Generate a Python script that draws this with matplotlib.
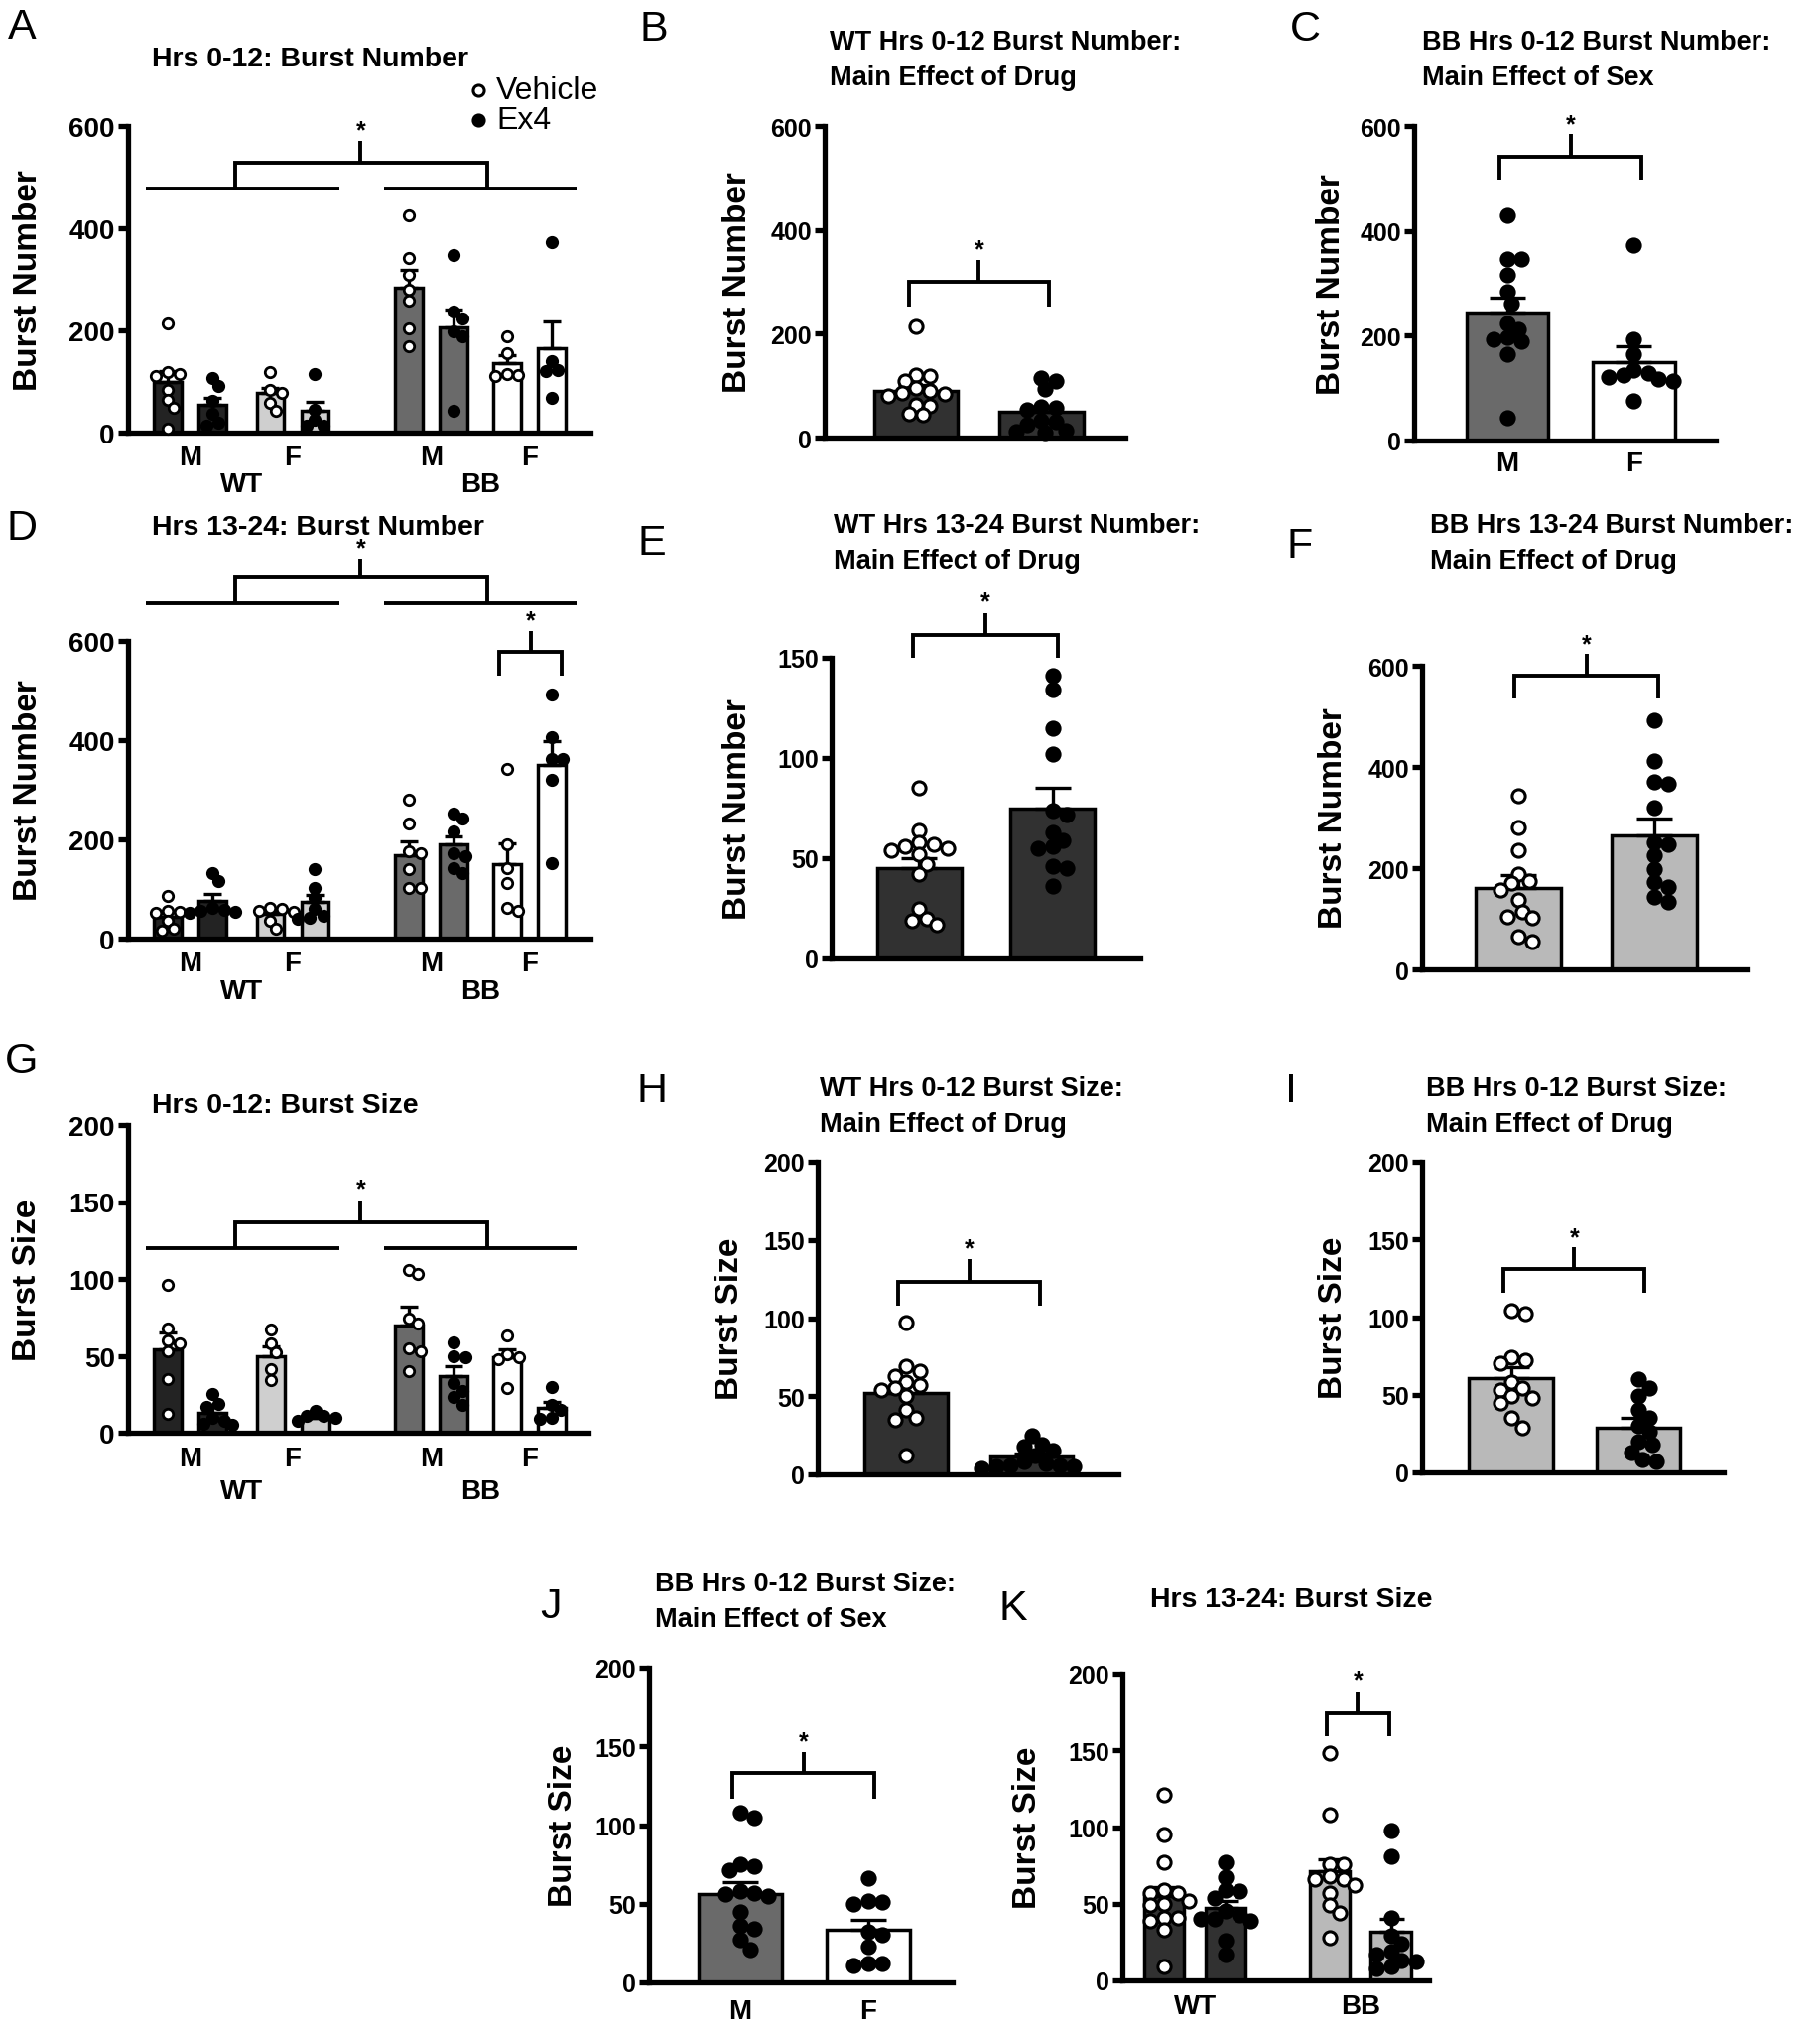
import numpy as np
import matplotlib
matplotlib.use('Agg')
import matplotlib.pyplot as plt
from matplotlib.lines import Line2D

plt.rcParams['font.family'] = ['Liberation Sans', 'DejaVu Sans']

# ---------------- data ----------------
# grouped panels: WT-M veh, WT-M ex4, WT-F veh, WT-F ex4, BB-M veh, BB-M ex4, BB-F veh, BB-F ex4
a_bar = [100, 55, 78, 42, 284, 206, 136, 165]
a_sem = [20, 13, 10, 18, 34, 35, 15, 53]
a_dots = [[214, 118, 115, 110, 84, 65, 49, 8], [107, 91, 62, 36, 19, 13],
          [118, 84, 78, 58, 42], [114, 45, 26, 13, 13],
          [425, 342, 308, 279, 259, 204, 169], [347, 237, 224, 198, 188, 42],
          [188, 156, 115, 112, 110], [373, 139, 123, 120, 68]]

d_bar = [45, 76, 50, 74, 168, 190, 150, 350]
d_sem = [9, 15, 7, 14, 28, 17, 42, 48]
d_dots = [[87, 57, 55, 53, 37, 20, 17], [133, 117, 62, 58, 57, 55, 53],
          [63, 60, 57, 54, 37, 20], [140, 103, 83, 60, 47, 43, 40],
          [280, 233, 177, 173, 140, 103, 103], [253, 243, 217, 173, 167, 143, 133],
          [343, 190, 143, 113, 63, 57], [493, 407, 363, 363, 320, 153]]

g_bar = [54, 13, 50, 10, 70, 37, 49, 16]
g_sem = [11, 4, 6, 1.5, 12, 6, 5, 4]
g_dots = [[96, 68, 60, 58, 53, 35, 12], [25, 19, 17, 10, 8, 6, 5],
          [67, 58, 52, 41, 34], [14, 11, 11, 10, 8],
          [106, 103, 74, 71, 55, 53, 40], [59, 50, 49, 32, 27, 23, 18],
          [63, 51, 49, 48, 29], [30, 18, 15, 10, 9]]

b_bar = [89, 49]
b_sem = [12, 11]
b_dots = [[214, 121, 119, 108, 96, 89, 86, 84, 81, 64, 62, 45, 43],
          [115, 108, 93, 59, 58, 54, 32, 30, 25, 13, 12, 10]]

c_bar = [244, 150]
c_sem = [28, 30]
c_dots = [[429, 347, 347, 316, 284, 262, 224, 212, 196, 193, 190, 164, 44],
          [373, 193, 164, 135, 129, 124, 122, 118, 114, 76]]

e_bar = [45, 75]
e_sem = [5, 10]
e_dots = [[85, 64, 58, 57, 56, 55, 54, 52, 47, 42, 25, 20, 19, 17],
          [141, 134, 115, 102, 74, 72, 63, 59, 56, 55, 46, 45, 36]]

f_bar = [160, 264]
f_sem = [26, 34]
f_dots = [[344, 280, 235, 189, 175, 170, 157, 137, 114, 104, 101, 65, 55],
          [492, 411, 370, 367, 320, 251, 248, 225, 199, 173, 163, 143, 134]]

h_bar = [52, 11.5]
h_sem = [5, 2]
h_dots = [[97, 69, 66, 63, 59, 57, 55, 54, 50, 41, 36, 35, 12],
          [25, 19, 18, 15, 12, 8, 7, 6, 6, 5, 5, 4]]

i_bar = [60.5, 29]
i_sem = [7, 6]
i_dots = [[104, 102, 74, 72, 70, 58, 54, 53, 49, 48, 45, 35, 29],
          [60, 54, 49, 40, 35, 30, 26, 20, 18, 13, 8, 7]]

j_bar = [56, 33.6]
j_sem = [7.5, 6.4]
j_dots = [[108, 105, 75, 74, 71, 58, 57, 56, 55, 45, 36, 34, 27, 21],
          [66, 52, 51, 50, 32, 30, 23, 12, 12, 11]]

k_bar = [55, 47, 71, 32]
k_sem = [6, 5, 8, 8]
k_dots = [[121, 95, 77, 59, 57, 57, 52, 50, 49, 41, 41, 39, 33, 9],
          [77, 67, 59, 58, 54, 45, 43, 40, 40, 39, 26, 17],
          [148, 108, 76, 76, 68, 66, 66, 62, 57, 49, 44, 28],
          [98, 81, 41, 29, 24, 19, 17, 13, 12, 9, 8]]

sex_labels = ['M', 'F', 'M', 'F']
geno_labels = ['WT', 'BB']
legend_labels = ['Vehicle', 'Ex4']

# ---------------- style ----------------
W, H = 1834, 2040
PX = 0.72  # points per pixel at dpi 100
DARK, DARK2, LIGHT, MID, LGRAY = '#232323', '#313131', '#cfcfcf', '#6a6a6a', '#b9b9b9'
grp_pos = [0, 1, 2.3, 3.3, 5.4, 6.4, 7.6, 8.6]
grp_colors = [DARK, DARK, LIGHT, LIGHT, MID, MID, 'white', 'white']
grp_filled = [False, True] * 4

fig = plt.figure(figsize=(W / 100, H / 100), dpi=100)


def fx(x):
    return x / W


def fy(y):
    return 1 - y / H


def make_ax(left, right, base, top, xlim, ymax, yticks, tick_fs, ylab, ylab_dx):
    ax = fig.add_axes([fx(left), fy(base), (right - left) / W, (base - top) / H])
    ax.set_xlim(*xlim)
    ax.set_ylim(0, ymax)
    ax.set_yticks(yticks, labels=[str(t) for t in yticks], fontsize=tick_fs, fontweight='bold')
    ax.spines[['top', 'right']].set_visible(False)
    ax.spines['left'].set_linewidth(3.8)
    ax.spines['bottom'].set_linewidth(3.8)
    ax.tick_params(axis='y', width=3.8, length=7.5, pad=2)
    ax.tick_params(axis='x', length=0, labelbottom=False)
    ax.patch.set_alpha(0)
    ax.set_ylabel(ylab, fontsize=24, fontweight='bold', va='center')
    ax.yaxis.set_label_coords(ylab_dx / (right - left), 0.5)
    return ax


def swarm(ax, xc, vals, diam):
    # simple beeswarm in pixel space, dots may overlap a little
    t = ax.transData
    x0 = t.transform((xc, 0))[0]
    ppu = t.transform((xc + 1, 0))[0] - x0
    step = diam * 0.22
    cands = [0] + [s * i * step for i in range(1, 60) for s in (1, -1)]
    placed, out = [], []
    for v in vals:
        y = t.transform((xc, v))[1]
        for dx in cands:
            if all((dx - px) ** 2 + (y - py) ** 2 >= (0.74 * diam) ** 2 for px, py in placed):
                break
        placed.append((dx, y))
        out.append(xc + dx / ppu)
    return out


def draw_bars(ax, pos, bars, sems, dots, colors, filled, width, ms, mew, cap):
    diam = (ms + mew) / PX
    for x, b, s, d, c, f in zip(pos, bars, sems, dots, colors, filled):
        ax.bar(x, b, width, color=c, edgecolor='black', linewidth=2.5, zorder=2)
        ax.errorbar(x, b, yerr=[[0], [s]], fmt='none', ecolor='black', elinewidth=2.4,
                    capsize=cap, capthick=2.4, zorder=3)
        xs = swarm(ax, x, d, diam)
        ax.plot(xs, d, 'o', ms=ms, mew=mew, mec='black', mfc='black' if f else 'white',
                ls='none', zorder=4, clip_on=False)


def line(ax, xs, ys):
    ax.plot(xs, ys, color='black', lw=2.8, clip_on=False, solid_capstyle='butt',
            solid_joinstyle='miter', zorder=5)


def star(ax, x, y):
    ax.text(x, y, '*', ha='center', va='center', fontsize=18, fontweight='bold', clip_on=False)


def pair_bracket(ax, x1, x2, y_line, y_end, y_tick, y_star):
    line(ax, [x1, x1, x2, x2], [y_end, y_line, y_line, y_end])
    xm = (x1 + x2) / 2
    line(ax, [xm, xm], [y_line, y_tick])
    star(ax, xm, y_star)


def group_bracket(ax, y_line, y_join, y_tick, y_star):
    line(ax, [-0.5, 3.85], [y_line, y_line])
    line(ax, [4.85, 9.15], [y_line, y_line])
    line(ax, [1.5, 1.5, 7.15, 7.15], [y_line, y_join, y_join, y_line])
    line(ax, [4.32, 4.32], [y_join, y_tick])
    star(ax, 4.32, y_star)


def xlabels(ax, xs, labels, dy):
    for x, lab in zip(xs, labels):
        ax.annotate(lab, xy=(x, 0), xycoords=('data', 'axes fraction'), xytext=(0, -dy * PX),
                    textcoords='offset points', ha='center', va='center', fontsize=20,
                    fontweight='bold', annotation_clip=False)


def grouped_labels(ax, dy1, dy2):
    sex_x = [(grp_pos[i] + grp_pos[i + 1]) / 2 for i in range(0, 8, 2)]
    xlabels(ax, sex_x, sex_labels, dy1)
    xlabels(ax, [(sex_x[0] + sex_x[1]) / 2, (sex_x[2] + sex_x[3]) / 2], geno_labels, dy2)


def title(x, y, lines, fs):
    for k, t in enumerate(lines):
        fig.text(fx(x), fy(y + 36 * k), t, ha='left', va='center', fontsize=fs, fontweight='bold')


def letter(x, y, s):
    fig.text(fx(x), fy(y), s, ha='center', va='center', fontsize=31)


# ---------------- A ----------------
axA = make_ax(129, 595, 437, 128, (-0.89, 9.47), 600, [0, 200, 400, 600], 20, 'Burst Number', -100)
draw_bars(axA, grp_pos, a_bar, a_sem, a_dots, grp_colors, grp_filled, 0.62, 7.5, 2, 6.5)
group_bracket(axA, 477, 529, 571, 591)
grouped_labels(axA, 25, 52)
letter(22, 28, 'A')
title(153, 60, ['Hrs 0-12: Burst Number'], 20.5)
for k, (lab, filled) in enumerate(zip(legend_labels, [False, True])):
    yy = 92 + 30 * k
    fig.add_artist(Line2D([fx(482)], [fy(yy)], marker='o', ms=8, mew=2.2, mec='black',
                          mfc='black' if filled else 'white', transform=fig.transFigure))
    fig.text(fx(500), fy(yy), lab, ha='left', va='center', fontsize=23)

# ---------------- B ----------------
axB = make_ax(831, 1134, 442, 128, (-0.73, 1.67), 600, [0, 200, 400, 600], 18, 'Burst Number', -88)
draw_bars(axB, [0, 1], b_bar, b_sem, b_dots, [DARK2, DARK2], [False, True], 0.67, 9.5, 2.2, 13)
pair_bracket(axB, -0.06, 1.06, 300, 252, 342, 362)
letter(659, 30, 'B')
title(836, 43, ['WT Hrs 0-12 Burst Number:', 'Main Effect of Drug'], 19.5)

# ---------------- C ----------------
axC = make_ax(1425, 1729, 445, 128, (-0.74, 1.65), 600, [0, 200, 400, 600], 18, 'Burst Number', -84)
draw_bars(axC, [0, 1], c_bar, c_sem, c_dots, [MID, 'white'], [True, True], 0.65, 9.5, 2.2, 13)
pair_bracket(axC, -0.06, 1.06, 542, 497, 584, 604)
xlabels(axC, [0, 1], ['M', 'F'], 23)
letter(1315, 30, 'C')
title(1433, 43, ['BB Hrs 0-12 Burst Number:', 'Main Effect of Sex'], 19.5)

# ---------------- D ----------------
axD = make_ax(129, 595, 947, 647, (-0.89, 9.47), 600, [0, 200, 400, 600], 20, 'Burst Number', -100)
draw_bars(axD, grp_pos, d_bar, d_sem, d_dots, grp_colors, grp_filled, 0.62, 7.5, 2, 6.5)
group_bracket(axD, 677, 728, 767, 788)
pair_bracket(axD, 7.42, 8.83, 579, 530, 620, 641)
grouped_labels(axD, 25, 53)
letter(22, 533, 'D')
title(153, 532, ['Hrs 13-24: Burst Number'], 20.5)

# ---------------- E ----------------
axE = make_ax(838, 1149, 967, 664, (-0.66, 1.66), 150, [0, 50, 100, 150], 18, 'Burst Number', -94)
draw_bars(axE, [0, 1], e_bar, e_sem, e_dots, [DARK2, DARK2], [False, True], 0.64, 9.5, 2.2, 13)
pair_bracket(axE, -0.05, 1.04, 161.5, 150, 172.5, 178)
letter(657, 548, 'E')
title(840, 530, ['WT Hrs 13-24 Burst Number:', 'Main Effect of Drug'], 19.5)

# ---------------- F ----------------
axF = make_ax(1433, 1760, 978, 672, (-0.71, 1.68), 600, [0, 200, 400, 600], 18, 'Burst Number', -89)
draw_bars(axF, [0, 1], f_bar, f_sem, f_dots, [LGRAY, LGRAY], [False, True], 0.63, 9.5, 2.2, 13)
pair_bracket(axF, -0.03, 1.03, 580, 535, 623, 643)
letter(1310, 551, 'F')
title(1441, 530, ['BB Hrs 13-24 Burst Number:', 'Main Effect of Drug'], 19.5)

# ---------------- G ----------------
axG = make_ax(129, 593, 1445, 1135, (-0.89, 9.42), 200, [0, 50, 100, 150, 200], 20, 'Burst Size', -101)
draw_bars(axG, grp_pos, g_bar, g_sem, g_dots, grp_colors, grp_filled, 0.62, 7.5, 2, 6.5)
group_bracket(axG, 120, 136.5, 151, 158.5)
grouped_labels(axG, 26, 59)
letter(22, 1070, 'G')
title(153, 1115, ['Hrs 0-12: Burst Size'], 20.5)

# ---------------- H ----------------
axH = make_ax(824, 1127, 1487, 1172, (-0.70, 1.69), 200, [0, 50, 100, 150, 200], 18, 'Burst Size', -89)
draw_bars(axH, [0, 1], h_bar, h_sem, h_dots, [DARK2, DARK2], [False, True], 0.66, 9.5, 2.2, 13)
pair_bracket(axH, -0.06, 1.07, 123, 108, 137.5, 144.5)
letter(657, 1100, 'H')
title(826, 1098, ['WT Hrs 0-12 Burst Size:', 'Main Effect of Drug'], 19.5)

# ---------------- I ----------------
axI = make_ax(1433, 1737, 1485, 1172, (-0.70, 1.67), 200, [0, 50, 100, 150, 200], 18, 'Burst Size', -89)
draw_bars(axI, [0, 1], i_bar, i_sem, i_dots, [LGRAY, LGRAY], [False, True], 0.66, 9.5, 2.2, 13)
pair_bracket(axI, -0.06, 1.05, 131, 115.5, 145, 151.5)
letter(1301, 1100, 'I')
title(1437, 1098, ['BB Hrs 0-12 Burst Size:', 'Main Effect of Drug'], 19.5)

# ---------------- J ----------------
axJ = make_ax(654, 960, 1999, 1682, (-0.71, 1.66), 200, [0, 50, 100, 150, 200], 18, 'Burst Size', -86)
draw_bars(axJ, [0, 1], j_bar, j_sem, j_dots, [MID, 'white'], [True, True], 0.65, 9.5, 2.2, 13)
pair_bracket(axJ, -0.06, 1.05, 133, 117, 146.5, 153)
xlabels(axJ, [0, 1], ['M', 'F'], 29)
letter(555, 1620, 'J')
title(660, 1597, ['BB Hrs 0-12 Burst Size:', 'Main Effect of Sex'], 19.5)

# ---------------- K ----------------
k_pos = [0, 1, 2.69, 3.69]
axK = make_ax(1131, 1440, 1997, 1688, (-0.68, 4.31), 200, [0, 50, 100, 150, 200], 18, 'Burst Size', -96)
draw_bars(axK, k_pos, k_bar, k_sem, k_dots, [DARK2, DARK2, LGRAY, LGRAY], [False, True] * 2,
          0.65, 9.5, 2.2, 9)
pair_bracket(axK, 2.65, 3.66, 174, 159, 188.5, 196)
xlabels(axK, [0.5, 3.19], geno_labels, 26)
letter(1021, 1622, 'K')
title(1159, 1613, ['Hrs 13-24: Burst Size'], 20.5)

fig.savefig('out.png', dpi=100, facecolor='white')
